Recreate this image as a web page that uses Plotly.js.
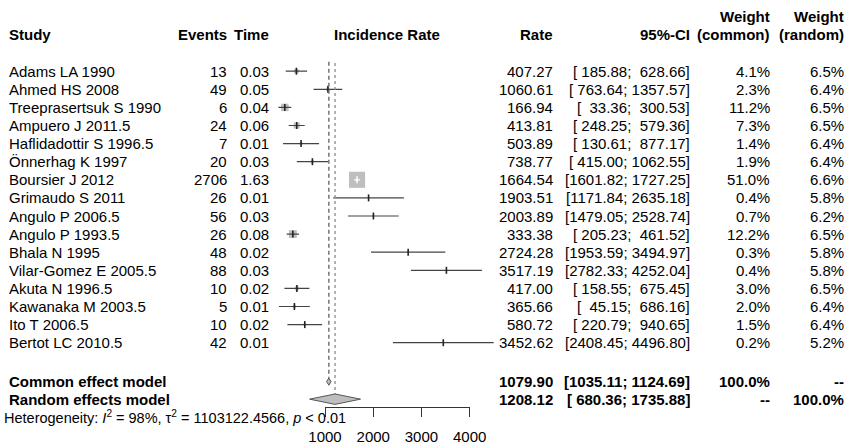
<!DOCTYPE html>
<html>
<head>
<meta charset="utf-8">
<script src="https://cdn.plot.ly/plotly-3.0.1.min.js"></script>
<style>html,body{margin:0;padding:0;background:#fff;}#plot{width:848px;height:448px;}</style>
</head>
<body>
<div id="plot"></div>
<script>
// ---------- data ----------
const studies = ['Adams LA 1990','Ahmed HS 2008','Treeprasertsuk S 1990','Ampuero J 2011.5','Haflidadottir S 1996.5','Önnerhag K 1997','Boursier J 2012','Grimaudo S 2011','Angulo P 2006.5','Angulo P 1993.5','Bhala N 1995','Vilar-Gomez E 2005.5','Akuta N 1996.5','Kawanaka M 2003.5','Ito T 2006.5','Bertot LC 2010.5'];
const events = [13,49,6,24,7,20,2706,26,56,26,48,88,10,5,10,42];
const time = [0.03,0.05,0.04,0.06,0.01,0.03,1.63,0.01,0.03,0.08,0.02,0.03,0.02,0.01,0.02,0.01];
const rate = [407.27,1060.61,166.94,413.81,503.89,738.77,1664.54,1903.51,2003.89,333.38,2724.28,3517.19,417.00,365.66,580.72,3452.62];
const ciLower = [185.88,763.64,33.36,248.25,130.61,415.00,1601.82,1171.84,1479.05,205.23,1953.59,2782.33,158.55,45.15,220.79,2408.45];
const ciUpper = [628.66,1357.57,300.53,579.36,877.17,1062.55,1727.25,2635.18,2528.74,461.52,3494.97,4252.04,675.45,686.16,940.65,4496.80];
const weightCommon = [4.1,2.3,11.2,7.3,1.4,1.9,51.0,0.4,0.7,12.2,0.3,0.4,3.0,2.0,1.5,0.2];
const weightRandom = [6.5,6.4,6.5,6.5,6.4,6.4,6.6,5.8,6.2,6.5,5.8,5.8,6.5,6.4,6.4,5.2];
const modelNames = ['Common effect model','Random effects model'];
const modelRate = [1079.90,1208.12];
const modelLower = [1035.11,680.36];
const modelUpper = [1124.69,1735.88];
const modelWeightCommon = ['100.0%','--'];
const modelWeightRandom = ['--','100.0%'];
const tickVals = [1000,2000,3000,4000];
const tickText = ['1000','2000','3000','4000'];
const heterogeneity = 'Heterogeneity: <i>I</i><sup>2</sup> = 98%, \u03c4<sup>2</sup> = 1103122.4566, <i>p</i> &lt; 0.01';

// ---------- layout constants ----------
const W = 848, H = 448;
const FONT = 'Liberation Sans, Arial, Helvetica, sans-serif';
const FS = 15;
const rowTop = 71.2, rowStep = 18.1;           // pixel geometry of rows
const modelRows = [17.15, 18.12];
const hetRow = 19.12;
const headRow = -2.05, headRow2 = -3.05;
const pxPerUnit = 0.04823, px1000 = 325;       // forest x scale
const xr = [-200, 4700];
const xPx = v => px1000 + (v - 1000) * pxPerUnit;
const yRange = [(H - rowTop) / rowStep, -rowTop / rowStep];

const cols = {events: 228, time: 270, rate: 554, ci: 691, wc: 771, wr: 845};

const traces = [];
const ciCol = '#444';
const sqCol = '#bebebe';

function pad7(v){ let s = v.toFixed(2); while (s.length < 7) s = '\u00a0' + s; return s; }
function ciText(lo, hi){ return '[' + pad7(lo) + '; ' + pad7(hi) + ']'; }

// study squares + CIs
studies.forEach((s, i) => {
  const side = Math.max(1, 2.25 * Math.sqrt(weightCommon[i]));
  const inside = (ciUpper[i] - ciLower[i]) * pxPerUnit < side;
  traces.push({type:'scatter', mode:'markers', x:[rate[i]], y:[i], xaxis:'x', yaxis:'y',
    marker:{symbol:'square', size:side, color:sqCol, line:{width:0}}, hoverinfo:'skip', showlegend:false, cliponaxis:false});
  traces.push({type:'scatter', mode:'lines', x:[ciLower[i], ciUpper[i]], y:[i, i], xaxis:'x', yaxis:'y',
    line:{color: inside ? '#ffffff' : ciCol, width:1.2}, hoverinfo:'skip', showlegend:false});
  traces.push({type:'scatter', mode:'markers', x:[rate[i]], y:[i], xaxis:'x', yaxis:'y',
    marker:{symbol:'line-ns', size:5, line:{width:1.6, color: inside ? '#ffffff' : '#222'}}, hoverinfo:'skip', showlegend:false, cliponaxis:false});
});

// reference lines
const dH = [3.6 / rowStep, 5.2 / rowStep];
traces.push({type:'scatter', mode:'lines', x:[modelRate[0], modelRate[0]], y:[-0.52, modelRows[0] - dH[0]], xaxis:'x', yaxis:'y',
  line:{color:'#6a6a6a', width:1.4, dash:'4px,3px'}, hoverinfo:'skip', showlegend:false});
traces.push({type:'scatter', mode:'lines', x:[modelRate[1], modelRate[1]], y:[-0.45, modelRows[1] - dH[1]], xaxis:'x', yaxis:'y',
  line:{color:'#8a8a8a', width:1.3, dash:'dot'}, hoverinfo:'skip', showlegend:false});

// diamonds
modelRate.forEach((m, k) => {
  const r = modelRows[k], h = dH[k];
  traces.push({type:'scatter', mode:'lines', fill:'toself', fillcolor:sqCol,
    x:[modelLower[k], m, modelUpper[k], m, modelLower[k]], y:[r, r - h, r, r + h, r], xaxis:'x', yaxis:'y',
    line:{color:'#555', width:1}, hoverinfo:'skip', showlegend:false});
});

// dummy trace for the visible axis
traces.push({type:'scatter', mode:'markers', x:[1000, 4000], y:[0.5, 0.5], xaxis:'x2', yaxis:'y2',
  marker:{opacity:0}, hoverinfo:'skip', showlegend:false});

// ---------- text ----------
const ann = [];
function txt(xpx, r, text, anchor, bold, size){
  ann.push({xref:'paper', yref:'y', x: xpx / W, y: r, text: bold ? '<b>' + text + '</b>' : text,
    xanchor: anchor, yanchor:'middle', showarrow:false, borderpad:0,
    font:{family:FONT, size: size || FS, color:'#000'}});
}
// headers
txt(8, headRow, 'Study', 'left', true);
txt(cols.events, headRow, 'Events', 'right', true);
txt(cols.time, headRow, 'Time', 'right', true);
txt(387, headRow, 'Incidence Rate', 'center', true);
txt(cols.rate, headRow, 'Rate', 'right', true);
txt(cols.ci, headRow, '95%-CI', 'right', true);
txt(cols.wc, headRow2, 'Weight', 'right', true);
txt(cols.wc, headRow, '(common)', 'right', true);
txt(cols.wr, headRow2, 'Weight', 'right', true);
txt(cols.wr, headRow, '(random)', 'right', true);
// study rows
studies.forEach((s, i) => {
  txt(8, i, s, 'left', false);
  txt(cols.events, i, String(events[i]), 'right', false);
  txt(cols.time, i, time[i].toFixed(2), 'right', false);
  txt(cols.rate, i, rate[i].toFixed(2), 'right', false);
  txt(cols.ci, i, ciText(ciLower[i], ciUpper[i]), 'right', false);
  txt(cols.wc, i, weightCommon[i].toFixed(1) + '%', 'right', false);
  txt(cols.wr, i, weightRandom[i].toFixed(1) + '%', 'right', false);
});
// model rows
modelNames.forEach((n, k) => {
  const r = modelRows[k];
  txt(8, r, n, 'left', true);
  txt(cols.rate, r, modelRate[k].toFixed(2), 'right', true);
  txt(cols.ci, r, ciText(modelLower[k], modelUpper[k]), 'right', true);
  txt(cols.wc, r, modelWeightCommon[k], 'right', true);
  txt(cols.wr, r, modelWeightRandom[k], 'right', true);
});
txt(3, hetRow, heterogeneity, 'left', false, 14.5);

const layout = {
  width: W, height: H,
  margin: {l:0, r:0, t:0, b:0, pad:0},
  paper_bgcolor:'#fff', plot_bgcolor:'rgba(0,0,0,0)',
  showlegend:false,
  font:{family:FONT, size:FS, color:'#000'},
  xaxis:{domain:[xPx(xr[0]) / W, xPx(xr[1]) / W], range:xr, visible:false, fixedrange:true},
  yaxis:{domain:[0,1], range:yRange, visible:false, fixedrange:true},
  xaxis2:{domain:[xPx(1000) / W, xPx(4000) / W], range:[1000,4000], anchor:'y2',
    showline:true, linecolor:'#333', linewidth:1, ticks:'outside', ticklen:9, tickwidth:1, tickcolor:'#333',
    tickvals:tickVals, ticktext:tickText, tickfont:{family:FONT, size:FS, color:'#000'},
    showgrid:false, zeroline:false, fixedrange:true, ticklabelstandoff:7},
  yaxis2:{domain:[(H - 407.3) / H, 1], range:[0,1], visible:false, fixedrange:true},
  annotations: ann
};

Plotly.newPlot('plot', traces, layout, {staticPlot:true, displayModeBar:false});
</script>
</body>
</html>
